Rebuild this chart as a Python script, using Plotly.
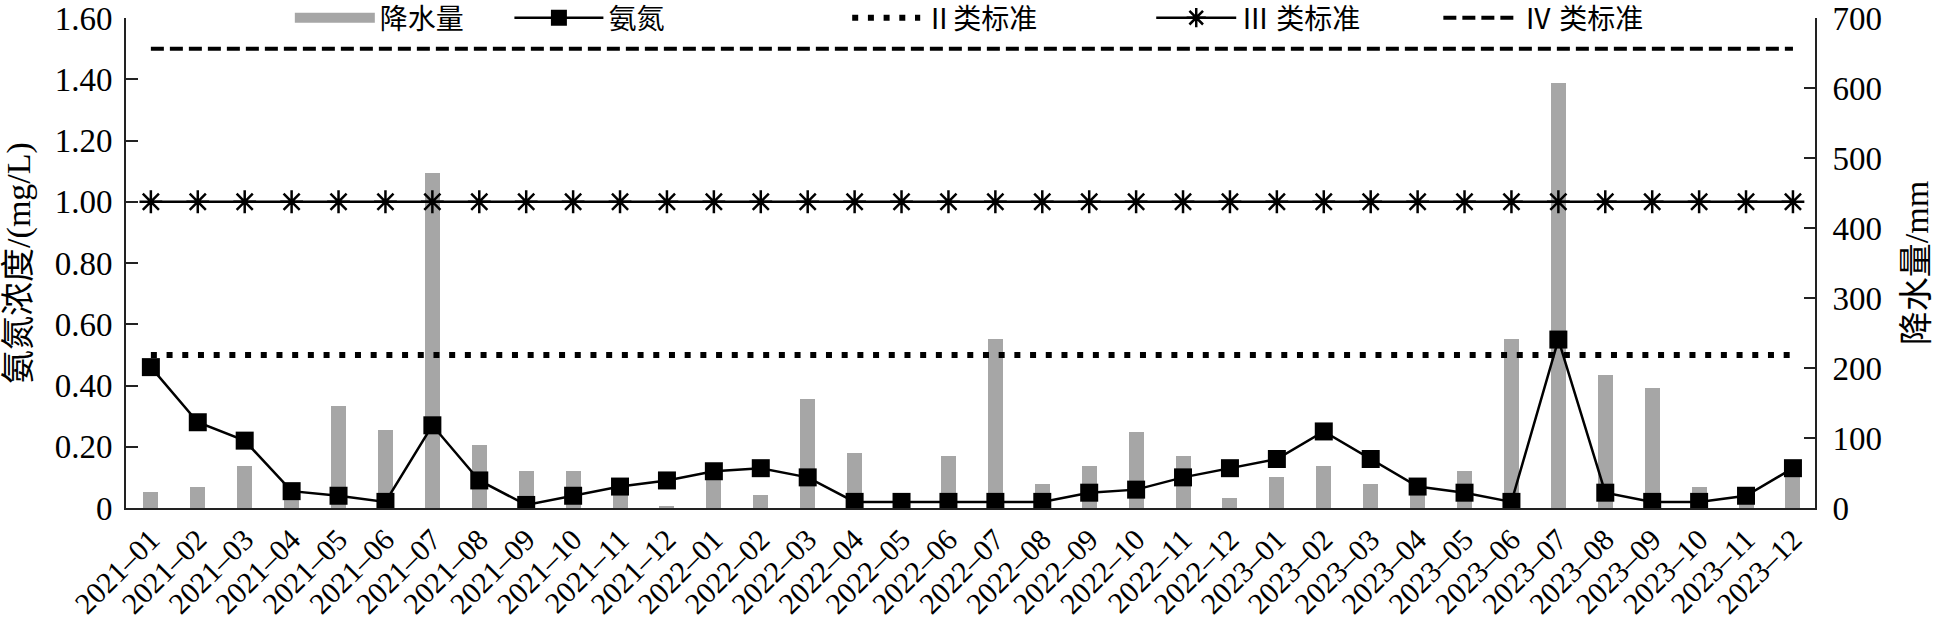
"""
Ammonia nitrogen concentration vs. monthly precipitation, 2021-2023.
"""

import plotly.graph_objects as go

months = [
    "2021–01", "2021–02", "2021–03", "2021–04", "2021–05", "2021–06",
    "2021–07", "2021–08", "2021–09", "2021–10", "2021–11", "2021–12",
    "2022–01", "2022–02", "2022–03", "2022–04", "2022–05", "2022–06",
    "2022–07", "2022–08", "2022–09", "2022–10", "2022–11", "2022–12",
    "2023–01", "2023–02", "2023–03", "2023–04", "2023–05", "2023–06",
    "2023–07", "2023–08", "2023–09", "2023–10", "2023–11", "2023–12",
]

# monthly precipitation (mm)
precip = [
    23, 30, 60, 22, 146, 112, 478, 90, 53, 53, 30, 2,
    50, 19, 156, 79, 8, 74, 241, 34, 60, 108, 75, 15,
    45, 60, 34, 25, 53, 241, 607, 190, 171, 30, 10, 50,
]

# ammonia nitrogen (mg/L)
ammonia = [
    0.46, 0.28, 0.22, 0.055, 0.04, 0.02, 0.27, 0.09, 0.01, 0.04, 0.07, 0.09,
    0.12, 0.13, 0.10, 0.02, 0.02, 0.02, 0.02, 0.02, 0.05, 0.06, 0.10, 0.13,
    0.16, 0.25, 0.16, 0.07, 0.05, 0.02, 0.55, 0.05, 0.02, 0.02, 0.04, 0.13,
]

STANDARD_II = 0.5
STANDARD_III = 1.0
STANDARD_IV = 1.5

left_ticks = [0, 0.2, 0.4, 0.6, 0.8, 1.0, 1.2, 1.4, 1.6]
left_labels = ["0", "0.20", "0.40", "0.60", "0.80", "1.00", "1.20", "1.40", "1.60"]
right_ticks = [0, 100, 200, 300, 400, 500, 600, 700]

FONT = "Liberation Serif, Noto Sans CJK SC, serif"
TICK_FS = 33
XTICK_FS = 30
LEGEND_FS = 28
TITLE_FS = 34
BAR_GREY = "#a6a6a6"
INK = "#000000"
AXIS = "#222222"

n = len(months)
fig = go.Figure()

# precipitation bars (on the base axis so the lines sit on top of them)
fig.add_trace(
    go.Bar(
        x=months,
        y=precip,
        width=0.32,
        marker={"color": BAR_GREY, "line": {"width": 0}},
        yaxis="y",
        showlegend=False,
    )
)
# legend-only entry for the bars (wide grey swatch)
fig.add_trace(
    go.Scatter(
        x=[None], y=[None], mode="lines", name="降水量",
        line={"color": BAR_GREY, "width": 14},
        legend="legend",
    )
)

fig.add_trace(
    go.Scatter(
        x=months, y=ammonia, mode="lines+markers", name="氨氮",
        line={"color": INK, "width": 2.5},
        marker={"symbol": "square", "size": 18, "color": INK},
        yaxis="y2", legend="legend2",
    )
)
fig.add_trace(
    go.Scatter(
        x=months, y=[STANDARD_II] * n, mode="lines", name="Ⅱ类标准",
        line={"color": INK, "width": 6, "dash": "6px,9.7px"},
        yaxis="y2", legend="legend3",
    )
)
fig.add_trace(
    go.Scatter(
        x=months, y=[STANDARD_III] * n, mode="lines+markers", name="Ⅲ 类标准",
        line={"color": INK, "width": 2.5},
        marker={"symbol": "asterisk-open", "size": 19,
                "line": {"color": INK, "width": 2.5}},
        yaxis="y2", legend="legend4",
    )
)
fig.add_trace(
    go.Scatter(
        x=months, y=[STANDARD_IV] * n, mode="lines", name="Ⅳ 类标准",
        line={"color": INK, "width": 4, "dash": "13px,6px"},
        yaxis="y2", legend="legend5",
    )
)


def legend_box(x, itemwidth):
    return {
        "x": x, "y": 1.0, "xanchor": "left", "yanchor": "middle",
        "orientation": "h", "itemwidth": itemwidth,
        "bgcolor": "rgba(0,0,0,0)", "borderwidth": 0,
        "font": {"family": FONT, "size": LEGEND_FS, "color": INK},
    }


def axis_common(ticklen):
    return {
        "showgrid": False,
        "zeroline": False,
        "showline": True,
        "linecolor": AXIS,
        "linewidth": 2,
        "ticks": "inside",
        "ticklen": ticklen,
        "tickwidth": 2,
        "tickcolor": AXIS,
        "tickfont": {"family": FONT, "size": TICK_FS, "color": INK},
        "ticklabeloverflow": "allow",
        "automargin": False,
    }


fig.update_layout(
    width=1935,
    height=621,
    margin={"l": 126, "r": 120, "t": 18, "b": 113, "autoexpand": False},
    plot_bgcolor="white",
    paper_bgcolor="white",
    font={"family": FONT, "size": LEGEND_FS, "color": INK},
    bargap=0,
    legend=legend_box(0.097, 80),
    legend2=legend_box(0.227, 89),
    legend3=legend_box(0.427, 68),
    legend4=legend_box(0.607, 80),
    legend5=legend_box(0.777, 76),
    xaxis={
        "type": "category",
        "range": [-0.53, 35.47],
        "tickangle": -45,
        "showgrid": False,
        "zeroline": False,
        "showline": True,
        "linecolor": AXIS,
        "linewidth": 2,
        "ticks": "",
        "tickfont": {"family": FONT, "size": XTICK_FS, "color": INK},
        "automargin": False,
    },
    yaxis={
        **axis_common(11),
        "side": "right",
        "range": [0, 700],
        "tickvals": right_ticks,
        "ticklabelstandoff": 9,
        "title": {"text": "降水量/mm", "standoff": 23,
                  "font": {"family": FONT, "size": TITLE_FS, "color": INK}},
    },
    yaxis2={
        **axis_common(12),
        "side": "left",
        "overlaying": "y",
        "range": [0, 1.6],
        "tickvals": left_ticks,
        "ticktext": left_labels,
        "ticklabelstandoff": 5,
        "title": {"text": "氨氮浓度/(mg/L)", "standoff": 19,
                  "font": {"family": FONT, "size": TITLE_FS, "color": INK}},
    },
)

# the page body has a default 8px margin; drop it so the figure sits at 0,0
fig.write_html(
    "out.html",
    config={"displayModeBar": False},
    post_script="document.body.style.margin='0';document.body.style.overflow='hidden';",
)
